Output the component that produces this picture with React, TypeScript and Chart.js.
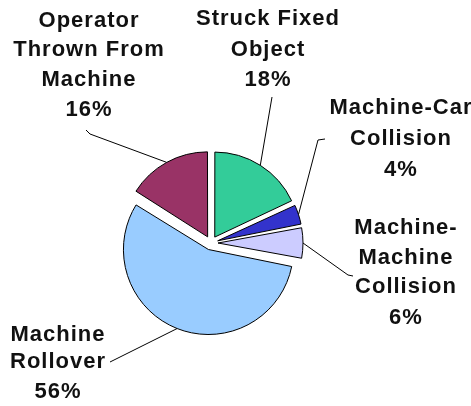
import React, { useEffect, useRef } from "react";
import { Chart, registerables } from "chart.js";

Chart.register(...registerables);

const categories = [
  "Struck Fixed Object",
  "Machine-Car Collision",
  "Machine-Machine Collision",
  "Machine Rollover",
  "Operator Thrown From Machine",
];
const values = [18, 4, 6, 56, 16];
const colors = ["#33cc99", "#3333cc", "#ccccff", "#99ccff", "#993366"];
const labelLines = [
  ["Struck Fixed", "Object"],
  ["Machine-Car", "Collision"],
  ["Machine-", "Machine", "Collision"],
  ["Machine", "Rollover"],
  ["Operator", "Thrown From", "Machine"],
];

const PIE_RADIUS = 85;
const EXPLODE = 28; // chart.js translates arcs by offset / 4

// layout of the outside labels (text center x, line center ys) and leader waypoints
const labelLayout = [
  { x: 268, ys: [18.5, 50, 80], path: [[272, 97]] },
  { x: 401, ys: [108, 139, 170], path: [[325, 139], [318, 140]] },
  { x: 406, ys: [228, 258, 287, 318], path: [[353, 276], [348, 275]] },
  { x: 58, ys: [335, 362, 392], path: [[110, 362]] },
  { x: 89, ys: [21, 50, 80, 110], path: [[86, 130], [90, 134]] },
];

// keep all exploded slices at the same visual radius
const evenRadius = {
  id: "evenRadius",
  beforeDatasetsDraw(chart: any) {
    const meta = chart.getDatasetMeta(0);
    meta.data.forEach((arc: any) => {
      const off = (arc.options.offset || 0) / 4;
      const circ = arc.circumference;
      const fix = 1 - Math.sin(Math.min(Math.PI, circ || 0));
      arc.outerRadius = PIE_RADIUS - off * fix;
    });
  },
};

const outsideLabels = {
  id: "outsideLabels",
  afterDraw(chart: any) {
    const ctx = chart.ctx as CanvasRenderingContext2D;
    const meta = chart.getDatasetMeta(0);
    const data = chart.data.datasets[0].data as number[];
    const total = data.reduce((a, b) => a + b, 0);
    ctx.save();
    meta.data.forEach((arc: any, i: number) => {
      const { x, y, startAngle, endAngle } = arc.getProps(
        ["x", "y", "startAngle", "endAngle"],
        true
      );
      const off = (arc.options.offset || 0) / 4;
      const mid = (startAngle + endAngle) / 2;
      const px = x + Math.cos(mid) * (PIE_RADIUS + off);
      const py = y + Math.sin(mid) * (PIE_RADIUS + off);
      const lay = labelLayout[i];
      ctx.strokeStyle = "#000";
      ctx.lineWidth = 1;
      ctx.beginPath();
      lay.path.forEach((p, k) => {
        if (k === 0) ctx.moveTo(p[0], p[1]);
        else ctx.lineTo(p[0], p[1]);
      });
      ctx.lineTo(px, py);
      ctx.stroke();
      const lines = [...labelLines[i], Math.round((data[i] / total) * 100) + "%"];
      ctx.fillStyle = "#111";
      ctx.font = "bold 22px 'Liberation Sans', Arial, sans-serif";
      (ctx as any).letterSpacing = "1px";
      ctx.textAlign = "center";
      ctx.textBaseline = "middle";
      lines.forEach((t, k) => {
        ctx.fillText(t, lay.x, lay.ys[k]);
      });
    });
    ctx.restore();
  },
};

export default function App() {
  const ref = useRef<HTMLCanvasElement>(null);
  useEffect(() => {
    if (!ref.current) return;
    const chart = new Chart(ref.current, {
      type: "pie",
      data: {
        labels: categories,
        datasets: [
          {
            data: values,
            backgroundColor: colors,
            borderColor: "#000",
            borderWidth: 1,
            offset: EXPLODE,
          },
        ],
      },
      options: {
        responsive: false,
        animation: false,
        radius: PIE_RADIUS,
        layout: { padding: { left: 0, right: 49, top: 80, bottom: 0 } },
        plugins: {
          legend: { display: false },
          tooltip: { enabled: false },
        },
      } as any,
      plugins: [evenRadius, outsideLabels],
    });
    return () => chart.destroy();
  }, []);
  return (
    <div style={{ position: "absolute", left: 0, top: 0, width: 471, height: 406, background: "#fff" }}>
      <canvas ref={ref} width={471} height={406} style={{ display: "block" }} />
    </div>
  );
}
